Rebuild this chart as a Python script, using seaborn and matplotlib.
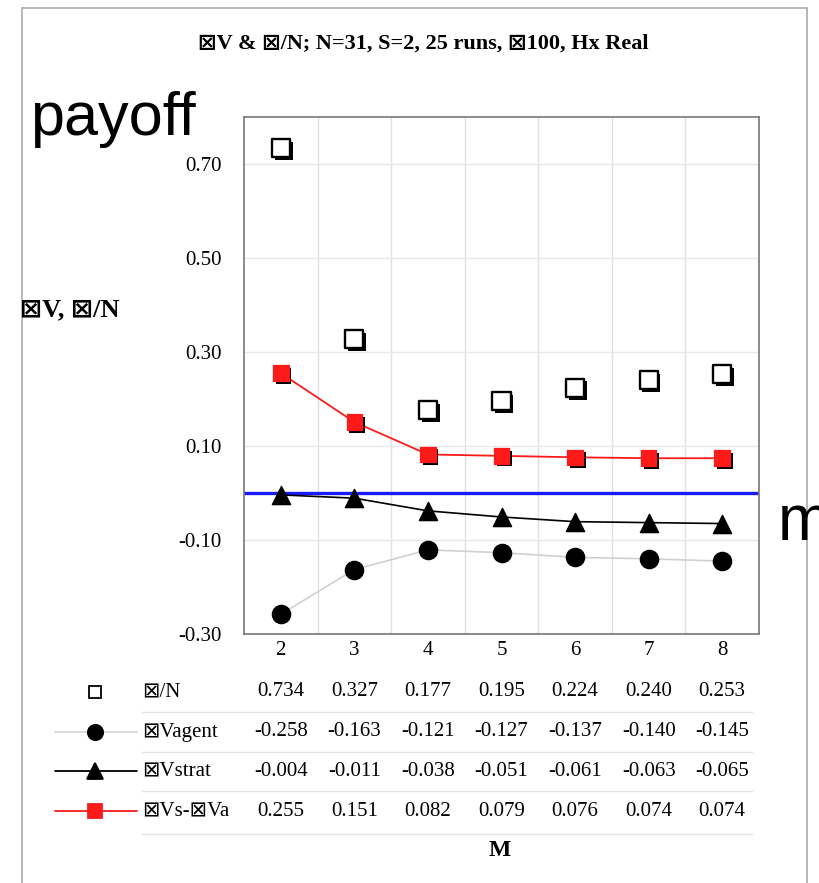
import numpy as np
import pandas as pd
import matplotlib.pyplot as plt
import matplotlib.patheffects as pe
from matplotlib.lines import Line2D
from matplotlib.patches import Rectangle
import seaborn as sns

m_values = [2, 3, 4, 5, 6, 7, 8]
sigma_n = [0.734, 0.327, 0.177, 0.195, 0.224, 0.240, 0.253]
v_agent = [-0.258, -0.163, -0.121, -0.127, -0.137, -0.140, -0.145]
v_strat = [-0.004, -0.011, -0.038, -0.051, -0.061, -0.063, -0.065]
v_diff = [0.255, 0.151, 0.082, 0.079, 0.076, 0.074, 0.074]
row_labels = ['⊠/N', '⊠Vagent', '⊠Vstrat', '⊠Vs-⊠Va']
y_ticks = [-0.30, -0.10, 0.10, 0.30, 0.50, 0.70]

sns.set_style('white')
serif = ['Liberation Serif', 'DejaVu Sans']
plt.rcParams['font.family'] = serif
plt.rcParams['text.color'] = 'black'
plt.rcParams['xtick.color'] = 'black'
plt.rcParams['ytick.color'] = 'black'

df = pd.DataFrame({'pos': np.arange(len(m_values)), 'M': m_values,
                   'sigma_n': sigma_n, 'v_agent': v_agent,
                   'v_strat': v_strat, 'v_diff': v_diff})

fig = plt.figure(figsize=(8.19, 8.83), dpi=100)
W, H = 819, 883
ax = fig.add_axes([244 / W, 1 - 634 / H, (759 - 244) / W, (634 - 117) / H])

shadow = [pe.SimplePatchShadow(offset=(2, -2), shadow_rgbFace='black', alpha=1.0), pe.Normal()]

ax.axhline(0, color='#1a1aff', lw=2.4, zorder=2)

# lines
sns.lineplot(data=df, x='pos', y='v_agent', ax=ax, color='#d0d0d0', lw=1.2, zorder=3)
sns.lineplot(data=df, x='pos', y='v_strat', ax=ax, color='black', lw=1.2, zorder=3)
sns.lineplot(data=df, x='pos', y='v_diff', ax=ax, color='#ff1a1a', lw=1.3, zorder=3)

# markers
sns.scatterplot(data=df, x='pos', y='v_agent', ax=ax, marker='o', s=170,
                color='black', edgecolor='black', zorder=4)
sns.scatterplot(data=df, x='pos', y='v_strat', ax=ax, marker='^', s=170,
                color='black', edgecolor='black', zorder=4)
shadowed = []
sns.scatterplot(data=df, x='pos', y='v_diff', ax=ax, marker='s', s=125,
                color='#ff1a1a', edgecolor='#ff1a1a', zorder=5)
shadowed.append(ax.collections[-1])
sns.scatterplot(data=df, x='pos', y='sigma_n', ax=ax, marker='s', s=170,
                facecolor='white', edgecolor='black', linewidth=1.7, zorder=6)
shadowed.append(ax.collections[-1])
for c in shadowed:
    c.set_path_effects(shadow)

ax.set_xlim(-0.5, len(m_values) - 0.5)
ax.set_ylim(-0.30, 0.80)
ax.set_xticks(df['pos'])
ax.set_xticklabels([str(m) for m in m_values], fontsize=15)
ax.set_xticks(np.arange(len(m_values) - 1) + 0.5, minor=True)
ax.set_yticks(y_ticks)
ax.set_yticklabels([f'{t:.2f}' for t in y_ticks], fontsize=15)
ax.tick_params(axis='both', which='both', length=0)
ax.tick_params(axis='y', pad=16)
ax.tick_params(axis='x', pad=5)
ax.grid(True, which='minor', axis='x', color='#e0e0e0', lw=1)
ax.grid(True, which='major', axis='y', color='#e8e8e8', lw=1)
ax.set_axisbelow(True)
ax.set_xlabel('')
ax.set_ylabel('')
for s in ax.spines.values():
    s.set_color('#777777')
    s.set_linewidth(1.2)

# data table under the axis
rows = [sigma_n, v_agent, v_strat, v_diff]
row_y = [692, 732, 771, 811]
xt = ax.get_xaxis_transform()
for vals, yp in zip(rows, row_y):
    ya = (634 - yp) / (634 - 117)
    for i, v in enumerate(vals):
        ax.text(i, ya, f'{v:.3f}', transform=xt, ha='center', va='center',
                fontsize=15, clip_on=False)

keys = [
    dict(ls='none', color='black', marker='s', mfc='white', mec='black', ms=9),
    dict(ls='-', color='#d8d8d8', marker='o', mfc='black', mec='black', ms=11),
    dict(ls='-', color='black', marker='^', mfc='black', mec='black', ms=11),
    dict(ls='-', color='#ff1a1a', marker='s', mfc='#ff1a1a', mec='#ff1a1a', ms=10),
]
for lab, yp, k in zip(row_labels, row_y, keys):
    yf = 1 - yp / H
    if k['ls'] != 'none':
        fig.add_artist(Line2D([55 / W, 137 / W], [yf, yf], lw=1.3,
                              ls=k['ls'], color=k['color']))
    fig.add_artist(Line2D([95 / W], [yf], ls='none', marker=k['marker'],
                          markerfacecolor=k['mfc'], markeredgecolor=k['mec'],
                          markersize=k['ms'], markeredgewidth=1.3))
    fig.text(142 / W, yf, lab, ha='left', va='center', fontsize=15, family=serif)

for yp in [712, 752, 791, 834]:
    fig.add_artist(Line2D([142 / W, 752 / W], [1 - yp / H] * 2, color='#e4e4e4', lw=1))

fig.text(500 / W, 1 - 851 / H, 'M', ha='center', va='center', fontsize=17,
         fontweight='bold', family=serif)

# titles and labels
fig.text(423 / W, 1 - 44 / H, '⊠V & ⊠/N; N=31, S=2, 25 runs, ⊠100, Hx Real',
         ha='center', va='center', fontsize=16, fontweight='bold', family=serif)
fig.text(20 / W, 1 - 310 / H, '⊠V, ⊠/N', ha='left', va='center', fontsize=19,
         fontweight='bold', family=serif)
fig.text(30 / W, 1 - 135 / H, 'payoff', ha='left', va='baseline', fontsize=44,
         family=['Liberation Sans', 'DejaVu Sans'])
fig.text(778 / W, 1 - 540 / H, 'm', ha='left', va='baseline', fontsize=46,
         family=['Liberation Sans', 'DejaVu Sans'])

# outer frame
fig.add_artist(Rectangle((22 / W, -0.05), (807 - 22) / W, 1.05 - 8 / H,
                         transform=fig.transFigure, fill=False,
                         edgecolor='#aaaaaa', lw=1.2))

fig.savefig('out.png', dpi=100)
